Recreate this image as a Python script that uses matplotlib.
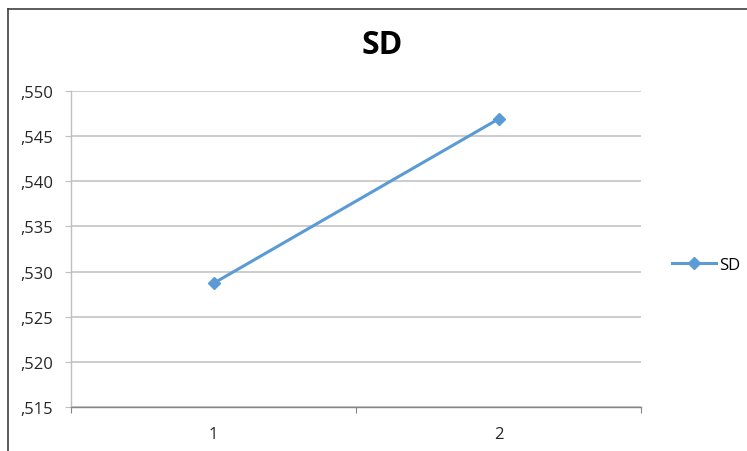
import matplotlib
matplotlib.use("Agg")
import matplotlib.pyplot as plt
from matplotlib.lines import Line2D

plt.rcParams["font.family"] = ["Open Sans", "DejaVu Sans"]

categories = ["1", "2"]
sd_values = [0.5287, 0.5469]
y_ticks = [0.515, 0.520, 0.525, 0.530, 0.535, 0.540, 0.545, 0.550]

W, H = 747, 452
fig = plt.figure(figsize=(W / 100, H / 100), dpi=100)
ax = fig.add_axes([71 / W, 1 - 408 / H, (641 - 71) / W, (408 - 92) / H])

blue = "#5B9BD5"
grid_c = "#BFBFBF"
axis_c = "#868686"

x = [0.5, 1.5]
ax.plot(x, sd_values, color=blue, lw=2.2, marker="D", ms=6.5,
        markeredgecolor=blue, label="SD", zorder=3)

ax.set_xlim(0, 2)
ax.set_ylim(y_ticks[0], y_ticks[-1])
ax.set_yticks(y_ticks)
ax.set_yticklabels(["," + f"{v:.3f}".split(".")[1] for v in y_ticks])
ax.set_xticks([0, 1, 2])
ax.set_xticklabels([])
ax.set_xticks(x, minor=True)
ax.set_xticklabels(categories, minor=True)
ax.tick_params(which="both", labelsize=12, labelcolor="#262626")
ax.tick_params(axis="x", which="minor", length=0, pad=14)
ax.tick_params(axis="x", which="major", length=4, color=axis_c, direction="out")
ax.tick_params(axis="y", length=4, color=grid_c, direction="out", pad=9)
ax.yaxis.grid(True, color=grid_c, lw=1.1)
ax.set_axisbelow(True)
for s in ["top", "right"]:
    ax.spines[s].set_visible(False)
ax.spines["left"].set_color(grid_c)
ax.spines["bottom"].set_color(axis_c)
ax.spines["left"].set_linewidth(1.0)
ax.spines["bottom"].set_linewidth(1.0)

fig.text(382 / W, 1 - 45 / H, "SD", ha="center", va="center",
         fontsize=23, fontweight="bold", color="black")

ax.legend(loc="center left", bbox_to_anchor=(664 / W, 1 - 266 / H),
          bbox_transform=fig.transFigure, frameon=False, fontsize=12,
          handlelength=2.6, handletextpad=0.2, borderpad=0)

# outer chart frame
fig.add_artist(Line2D([8 / W, 8 / W], [0, 1 - 10 / H], transform=fig.transFigure,
                      color="#404040", lw=1.2))
fig.add_artist(Line2D([8 / W, 1], [1 - 10 / H, 1 - 10 / H], transform=fig.transFigure,
                      color="#404040", lw=1.2))

fig.savefig("out.png", dpi=100)
